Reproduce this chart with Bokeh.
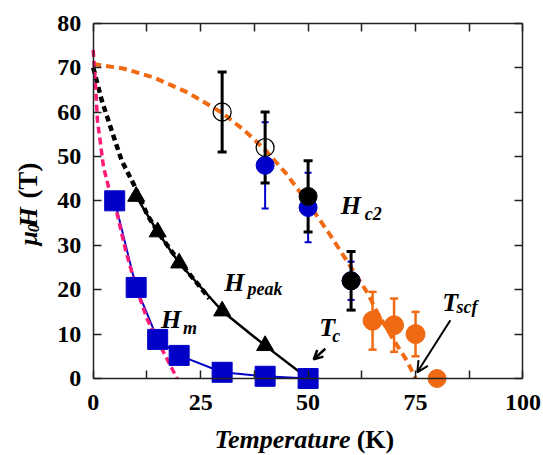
import math
from bokeh.plotting import figure
from bokeh.models import (Range1d, LinearAxis, FixedTicker, CustomJSTickFormatter,
                          Label, Arrow, OpenHead)
from bokeh.embed import file_html
from bokeh.resources import INLINE

# ---------------- data ----------------
hm_T = [5, 10, 15, 20, 30, 40, 50]
hm_H = [40, 20.5, 8.8, 5.2, 1.4, 0.5, 0]

hpeak_T = [10, 15, 20, 30, 40, 50]
hpeak_H = [41, 33, 26, 15.2, 7.4, 0]

hm_fit_T = [0, 0.6, 1, 1.6, 2.4, 3.6, 5, 7.5, 10, 12.5, 15, 17.5, 19.5]
hm_fit_H = [74, 65, 58, 53.6, 47.6, 43, 39.5, 29, 20.5, 13.5, 8.5, 3.8, 0]

hpeak_fit_T = [0, 2, 4.3, 6.65, 9.8, 12.5, 15, 20, 25, 27]
hpeak_fit_H = [70, 62.6, 55.8, 49, 43, 37, 33, 26.3, 20.5, 18]

hc2_fit_T = [0, 7, 14, 22, 30, 35, 40, 45, 50, 55, 60, 64, 66, 70, 73, 75]
hc2_fit_H = [70.8, 69.8, 67.8, 64.4, 59.8, 56, 51.5, 46, 39.5, 32.5, 25, 19, 15, 8.5, 4, 0]

open_T = [30, 40]
open_H = [60, 52]
open_err = [9, 8]

blue_T = [40, 50, 60]
blue_H = [48, 38.5, 22]
blue_err = [9.7, 7.8, 4.3]

black_T = [50, 60]
black_H = [41, 22]
black_err = [8, 6.6]

orange_T = [65, 70, 75]
orange_H = [13, 12, 10]
orange_err = [6.5, 6, 5]

tscf_T = [80]
tscf_H = [0]

x_ticks = [0, 25, 50, 75, 100]
x_minor = [12.5, 37.5, 62.5, 87.5]
y_ticks = [0, 10, 20, 30, 40, 50, 60, 70, 80]

BLUE = "#0000C8"
ORANGE = "#F06A14"
PINK = "#FF1A78"
FONT = "Liberation Serif"

# The frame covers the whole canvas; the four axes are pinned at the data edges
p = figure(width=543, height=455,
           x_range=Range1d(-21.57, 104.77), y_range=Range1d(-17.34, 85.11),
           output_backend="svg", toolbar_location=None,
           min_border_left=0, min_border_right=0, min_border_top=0, min_border_bottom=0)
p.xgrid.visible = False
p.ygrid.visible = False
p.outline_line_color = None


def style_axis(ax, ticks, minor, loc, bounds, labels=True):
    ax.ticker = FixedTicker(ticks=ticks, minor_ticks=minor)
    ax.fixed_location = loc
    ax.bounds = bounds
    ax.major_tick_in = 8
    ax.major_tick_out = 0
    ax.minor_tick_in = 8
    ax.minor_tick_out = 0
    ax.axis_line_width = 1.5
    ax.axis_line_color = "#222222"
    ax.major_tick_line_width = 1.5
    ax.minor_tick_line_width = 1.5
    ax.major_tick_line_color = "#222222"
    ax.minor_tick_line_color = "#222222"
    ax.major_label_text_font = FONT
    ax.major_label_text_font_style = "bold"
    ax.major_label_text_font_size = "24px"
    ax.major_label_text_color = "black"
    if not labels:
        ax.formatter = CustomJSTickFormatter(code="return ''")
        ax.major_label_text_font_size = "1px"
        ax.major_label_standoff = 0


style_axis(p.xaxis[0], x_ticks, x_minor, 0, (0, 100))
style_axis(p.yaxis[0], y_ticks, [], 0, (0, 80))
p.xaxis[0].major_label_standoff = 17
p.yaxis[0].major_label_standoff = 12

top = LinearAxis()
style_axis(top, x_ticks, x_minor, 80, (0, 100), labels=False)
p.add_layout(top, "above")
right = LinearAxis()
style_axis(right, y_ticks, [], 100, (0, 80), labels=False)
p.add_layout(right, "right")

# ---------------- fit curves ----------------
p.line(hc2_fit_T, hc2_fit_H, color=ORANGE, line_width=4, line_dash="8 5")
p.line(hpeak_fit_T, hpeak_fit_H, color="black", line_width=4.5, line_dash="6 4")
p.line(hm_T, hm_H, color=BLUE, line_width=2)
p.line(hm_fit_T, hm_fit_H, color=PINK, line_width=3.5, line_dash="7 4")
p.line(hpeak_T, hpeak_H, color="black", line_width=2.5)


def errbars(T, H, E, color, lw, cap):
    lo = [h - e for h, e in zip(H, E)]
    hi = [h + e for h, e in zip(H, E)]
    p.segment(x0=T, y0=lo, x1=T, y1=hi, line_color=color, line_width=lw)
    p.scatter(T, lo, marker="dash", size=cap, line_color=color, line_width=lw)
    p.scatter(T, hi, marker="dash", size=cap, line_color=color, line_width=lw)


errbars(blue_T, blue_H, blue_err, BLUE, 2, 7)
errbars(orange_T, orange_H, orange_err, ORANGE, 2.5, 8)
errbars(open_T, open_H, open_err, "black", 3, 9)
errbars(black_T, black_H, black_err, "black", 3, 9)

p.scatter(blue_T, blue_H, marker="circle", size=18, fill_color=BLUE, line_color=BLUE)
p.scatter(black_T, black_H, marker="circle", size=18, fill_color="black", line_color="black")
p.scatter(open_T, open_H, marker="circle", size=18, fill_color=None, line_color="black", line_width=1.3)
p.scatter(orange_T, orange_H, marker="circle", size=19, fill_color=ORANGE, line_color=ORANGE)
p.scatter(tscf_T, tscf_H, marker="circle", size=18, fill_color=ORANGE, line_color=ORANGE)

p.scatter(hpeak_T, hpeak_H, marker="triangle", size=17, fill_color="black", line_color="black")
p.scatter(hm_T, hm_H, marker="square", size=20, fill_color=BLUE, line_color=BLUE)


# ---------------- annotations ----------------
def lab(x, y, text, size, style="bold italic", angle=0, align="left"):
    p.add_layout(Label(x=x, y=y, text=text, text_font=FONT, text_font_style=style,
                       text_font_size=size, text_baseline="alphabetic", text_align=align,
                       angle=angle, text_color="black"))


dy = 1.8
lab(57.6, 37.1 + dy, "H", "26px")
lab(63.2, 35.2 + dy, "c2", "18px")
lab(30.5, 19.8 + dy, "H", "26px")
lab(35.9, 18.4 + dy, "peak", "18px")
lab(15.8, 11.55 + dy, "H", "26px")
lab(20.9, 9.6 + dy, "m", "18px")
lab(52.6, 9.7 + dy, "T", "26px")
lab(55.6, 7.8 + dy, "c", "18px")
lab(81.2, 15.3 + dy, "T", "26px")
lab(84.5, 14.2 + dy, "scf", "18px")

p.add_layout(Arrow(end=OpenHead(size=9, line_width=2.5), x_start=54.0, y_start=6.7,
                   x_end=51.3, y_end=4.3, line_width=2.5))
p.add_layout(Arrow(end=OpenHead(size=11, line_width=2), x_start=83.1, y_start=13.1,
                   x_end=75.4, y_end=1.4, line_width=2))

# axis titles
lab(59.9, -15.5 + dy, "Temperature", "26px", align="right")
lab(61.3, -15.5 + dy, "(K)", "26px", style="bold")

A = math.pi / 2
dx = -1.9
lab(-13.2 + dx, 29.95, "\u03bc", "26px", angle=A)
lab(-12.0 + dx, 32.9, "0", "17px", angle=A)
lab(-13.2 + dx, 34.0, "H", "26px", angle=A)
lab(-13.2 + dx, 40.5, "(T)", "27px", style="bold", angle=A)

open("out.html", "w").write(file_html(p, INLINE))
